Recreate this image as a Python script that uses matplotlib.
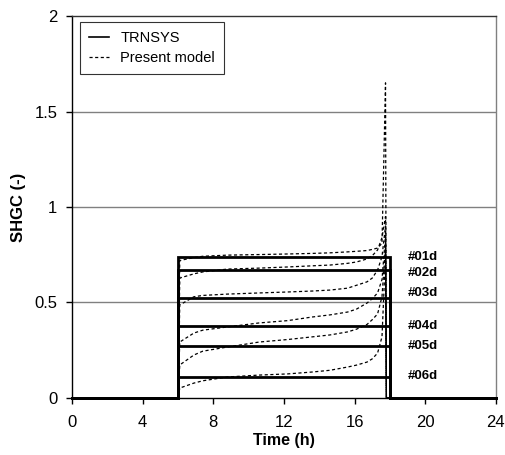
import matplotlib
matplotlib.use("Agg")
import matplotlib.pyplot as plt
from matplotlib.lines import Line2D

plt.rcParams['font.family'] = ['Liberation Sans', 'DejaVu Sans']

# ---- data ----
cases = ["#01d", "#02d", "#03d", "#04d", "#05d", "#06d"]
trnsys_level = [0.74, 0.672, 0.525, 0.377, 0.272, 0.11]
trnsys_time = [0, 6, 6, 18, 18, 24]

pm_time = [0, 6, 6.1, 6.9, 7.4, 8.8, 10.6, 12.2, 13.6, 14.6, 15.6, 16.1,
           16.7, 17.0, 17.3, 17.55, 17.75, 17.8, 18, 24]
pm_01d = [0, 0, 0.72, 0.735, 0.742, 0.748, 0.751, 0.754, 0.757, 0.760, 0.765,
          0.768, 0.772, 0.778, 0.785, 0.81, 1.65, 0, 0, 0]
pm_02d = [0, 0, 0.628, 0.65, 0.66, 0.675, 0.68, 0.686, 0.692, 0.696, 0.705,
          0.712, 0.728, 0.745, 0.775, 0.84, 0.95, 0, 0, 0]
pm_03d = [0, 0, 0.487, 0.53, 0.537, 0.544, 0.55, 0.555, 0.56, 0.565, 0.575,
          0.59, 0.608, 0.628, 0.67, 0.74, 0.9, 0, 0, 0]
pm_04d = [0, 0, 0.293, 0.34, 0.355, 0.372, 0.393, 0.405, 0.424, 0.435, 0.45,
          0.465, 0.497, 0.52, 0.55, 0.62, 0.85, 0, 0, 0]
pm_05d = [0, 0, 0.173, 0.225, 0.245, 0.267, 0.293, 0.306, 0.32, 0.33, 0.346,
          0.36, 0.385, 0.41, 0.44, 0.53, 0.8, 0, 0, 0]
pm_06d = [0, 0, 0.052, 0.078, 0.09, 0.11, 0.12, 0.126, 0.136, 0.145, 0.162,
          0.172, 0.188, 0.205, 0.235, 0.32, 0.75, 0, 0, 0]
pm_series = [pm_01d, pm_02d, pm_03d, pm_04d, pm_05d, pm_06d]

label_x = 19.0
label_y = [0.738, 0.654, 0.55, 0.377, 0.272, 0.115]

x_ticks = [0, 4, 8, 12, 16, 20, 24]
y_ticks = [0, 0.5, 1, 1.5, 2]
y_ticklabels = ["0", "0.5", "1", "1.5", "2"]

# ---- figure ----
fig = plt.figure(figsize=(5.05, 4.55), dpi=100)
ax = fig.add_axes([0.1426, 0.1253, 0.982 - 0.1426, 0.9648 - 0.1253])

for yv in [0.5, 1.0, 1.5]:
    ax.axhline(yv, color="#808080", lw=1.0, zorder=1)

for pm in pm_series:
    ax.plot(pm_time, pm, color="black", lw=0.9, linestyle=(0, (2.5, 2)),
            zorder=3, clip_on=False)

for lvl in trnsys_level:
    ax.plot(trnsys_time, [0, 0, lvl, lvl, 0, 0], color="black", lw=2.0,
            zorder=4, clip_on=False, solid_joinstyle="miter")

for name, ly in zip(cases, label_y):
    ax.text(label_x, ly, name, fontsize=9.5, fontweight="bold",
            ha="left", va="center")

ax.set_xlim(0, 24)
ax.set_ylim(0, 2)
ax.set_xticks(x_ticks)
ax.set_yticks(y_ticks)
ax.set_yticklabels(y_ticklabels)
ax.tick_params(direction="out", length=4.5, width=1, labelsize=12)
ax.tick_params(axis="y", pad=6)
ax.tick_params(axis="x", pad=8)

ax.spines["left"].set_color("black")
ax.spines["bottom"].set_color("black")
ax.spines["top"].set_color("#333333")
ax.spines["right"].set_color("#808080")
for s in ax.spines.values():
    s.set_linewidth(1.0)

ax.set_xlabel("Time (h)", fontsize=11.5, fontweight="bold", labelpad=2)
ax.set_ylabel("SHGC (-)", fontsize=12, fontweight="bold", labelpad=6)

handles = [Line2D([], [], color="black", lw=1.2),
           Line2D([], [], color="black", lw=0.9, linestyle=(0, (2.5, 2)))]
leg = ax.legend(handles, ["TRNSYS", "Present model"], loc="upper left",
                bbox_to_anchor=(0.019, 0.984), fontsize=10.5, frameon=True,
                fancybox=False, edgecolor="black", handlelength=1.4,
                borderpad=0.6, labelspacing=0.45, handletextpad=0.75,
                borderaxespad=0)
leg.get_frame().set_linewidth(0.8)

fig.savefig("out.png", dpi=100)
